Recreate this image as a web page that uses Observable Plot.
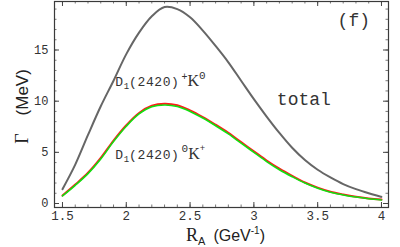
<!DOCTYPE html>
<html>
<head>
<meta charset="utf-8">
<script src="https://cdn.jsdelivr.net/npm/d3@7"></script>
<script src="https://cdn.jsdelivr.net/npm/@observablehq/plot@0.6"></script>
<style>
  html, body { margin: 0; padding: 0; background: #fff; }
  svg { display: block; }
</style>
</head>
<body>
<div id="chart"></div>
<script>
// R_A values (GeV^-1)
const rA = [1.5, 1.6, 1.7, 1.8, 1.9, 2.0, 2.1, 2.2, 2.3, 2.4, 2.5, 2.6, 2.7, 2.8, 2.9, 3.0, 3.1, 3.2, 3.3, 3.4, 3.5, 3.6, 3.7, 3.8, 3.9, 4.0];
// total width (MeV)
const total = [1.4, 3.8, 6.7, 9.5, 12.0, 14.6, 16.7, 18.3, 19.2, 19.0, 18.2, 16.9, 15.4, 13.8, 12.0, 10.2, 8.5, 6.9, 5.45, 4.25, 3.3, 2.55, 1.9, 1.4, 1.0, 0.65];
// D1(2420)+ K0 channel (red)
const chargedK0 = [0.78, 1.85, 3.0, 4.45, 6.15, 7.65, 8.85, 9.55, 9.75, 9.6, 9.1, 8.45, 7.7, 6.9, 6.0, 5.1, 4.2, 3.4, 2.7, 2.05, 1.55, 1.15, 0.88, 0.66, 0.5, 0.38];
// D1(2420)0 K+ channel (green)
const neutralKp = [0.74, 1.78, 2.92, 4.35, 6.05, 7.55, 8.75, 9.45, 9.63, 9.48, 9.0, 8.35, 7.6, 6.8, 5.9, 5.0, 4.1, 3.3, 2.62, 2.0, 1.5, 1.1, 0.84, 0.63, 0.47, 0.35];

const xMajor = [1.5, 2, 2.5, 3, 3.5, 4];
const xMinor = d3.range(15, 41).map(v => v / 10);
const yMajor = [0, 5, 10, 15];
const yMinor = d3.range(0, 20);

const W = 400, H = 247;
const mL = 54, mR = 12, mT = 1, mB = 40;
const innerW = W - mL - mR, innerH = H - mT - mB;

const rows = rA.map((r, i) => ({r, total: total[i], red: chargedK0[i], green: neutralKp[i]}));

const labels = [
  {key: "upper", x: 1.914, y: 11.46},
  {key: "lower", x: 1.914, y: 4.35},
  {key: "total", x: 3.18, y: 9.6},
  {key: "panel", x: 3.656, y: 17.3}
];

const mono = "Liberation Mono, DejaVu Sans Mono, monospace";
const serif = "Liberation Serif, DejaVu Serif, serif";
const sans = "Liberation Sans, DejaVu Sans, sans-serif";
const ink = "#333";

const plot = Plot.plot({
  width: W, height: H,
  marginLeft: mL, marginRight: mR, marginTop: mT, marginBottom: mB,
  style: {fontFamily: mono, fontSize: "12px", color: ink, background: "#fff"},
  x: {domain: [1.4375, 4.055]},
  y: {domain: [-0.39, 19.74]},
  marks: [
    // minor ticks (inward)
    Plot.ruleX(xMinor, {stroke: "#555", strokeWidth: 0.8, insetTop: innerH - 2.5}),
    Plot.ruleX(xMinor, {stroke: "#555", strokeWidth: 0.8, insetBottom: innerH - 2.5}),
    Plot.ruleY(yMinor, {stroke: "#555", strokeWidth: 0.8, insetRight: innerW - 2.5}),
    Plot.ruleY(yMinor, {stroke: "#555", strokeWidth: 0.8, insetLeft: innerW - 2.5}),
    // major ticks (inward)
    Plot.ruleX(xMajor, {stroke: "#444", strokeWidth: 1, insetTop: innerH - 5}),
    Plot.ruleX(xMajor, {stroke: "#444", strokeWidth: 1, insetBottom: innerH - 5}),
    Plot.ruleY(yMajor, {stroke: "#444", strokeWidth: 1, insetRight: innerW - 5}),
    Plot.ruleY(yMajor, {stroke: "#444", strokeWidth: 1, insetLeft: innerW - 5}),
    Plot.axisX(xMajor, {anchor: "bottom", tickSize: 0, tickPadding: 4, label: null, fontSize: 12.5, fill: ink, tickFormat: d => String(d)}),
    Plot.axisY(yMajor, {anchor: "left", tickSize: 0, tickPadding: 6, label: null, fontSize: 12, fill: ink, tickFormat: d => String(d)}),
    // curves
    Plot.line(rows, {x: "r", y: "total", stroke: "#666", strokeWidth: 2, curve: "catmull-rom"}),
    Plot.line(rows, {x: "r", y: "red", stroke: "#ff1a1a", strokeWidth: 2, curve: "catmull-rom"}),
    Plot.line(rows, {x: "r", y: "green", stroke: "#11e011", strokeWidth: 1.6, curve: "catmull-rom"}),
    Plot.frame({stroke: "#3a3a3a", strokeWidth: 1.2}),
    // annotations
    Plot.text(labels, {x: "x", y: "y", text: "key", textAnchor: "start", lineAnchor: "bottom", fill: ink}),
    Plot.text(["xtitle"], {frameAnchor: "bottom", dx: 4, dy: 33, lineAnchor: "bottom", text: d => d, fill: "#222"}),
    Plot.text(["ytitle"], {frameAnchor: "left", dx: -27, dy: 2, rotate: -90, lineAnchor: "bottom", text: d => d, fill: "#222"})
  ]
});

const html = {
  upper: `<tspan font-family="${mono}" font-size="13" letter-spacing="0.6">D</tspan><tspan font-family="${mono}" font-size="9" dy="3">1</tspan><tspan font-family="${mono}" font-size="13" letter-spacing="0.6" dy="-3">(2420)</tspan><tspan font-family="${mono}" font-size="10" dy="-6" dx="2">+</tspan><tspan font-family="${serif}" font-size="16" dy="6">K</tspan><tspan font-family="${mono}" font-size="11" dy="-7">0</tspan>`,
  lower: `<tspan font-family="${mono}" font-size="13" letter-spacing="0.6">D</tspan><tspan font-family="${mono}" font-size="9" dy="3">1</tspan><tspan font-family="${mono}" font-size="13" letter-spacing="0.6" dy="-3">(2420)</tspan><tspan font-family="${mono}" font-size="11" dy="-7" dx="2">0</tspan><tspan font-family="${serif}" font-size="16" dy="7">K</tspan><tspan font-family="${mono}" font-size="9" dy="-8">+</tspan>`,
  total: `<tspan font-family="${mono}" font-size="18">total</tspan>`,
  panel: `<tspan font-family="${mono}" font-size="18">(f)</tspan>`,
  xtitle: `<tspan font-family="${serif}" font-size="18">R</tspan><tspan font-family="${sans}" font-size="11" dy="4">A</tspan><tspan font-family="${sans}" font-size="16" dy="-4" dx="8">(GeV</tspan><tspan font-family="${sans}" font-size="10" dy="-7">-1</tspan><tspan font-family="${sans}" font-size="16" dy="7">)</tspan>`,
  ytitle: `<tspan font-family="${serif}" font-size="18">Γ</tspan><tspan font-family="${sans}" font-size="17" dx="18">(MeV)</tspan>`
};

plot.querySelectorAll("text").forEach(t => {
  const key = t.textContent.trim();
  if (html[key]) {
    if (key === "xtitle" || key === "ytitle") t.setAttribute("text-anchor", "middle");
    t.innerHTML = html[key];
  }
});

document.getElementById("chart").appendChild(plot);
</script>
</body>
</html>
